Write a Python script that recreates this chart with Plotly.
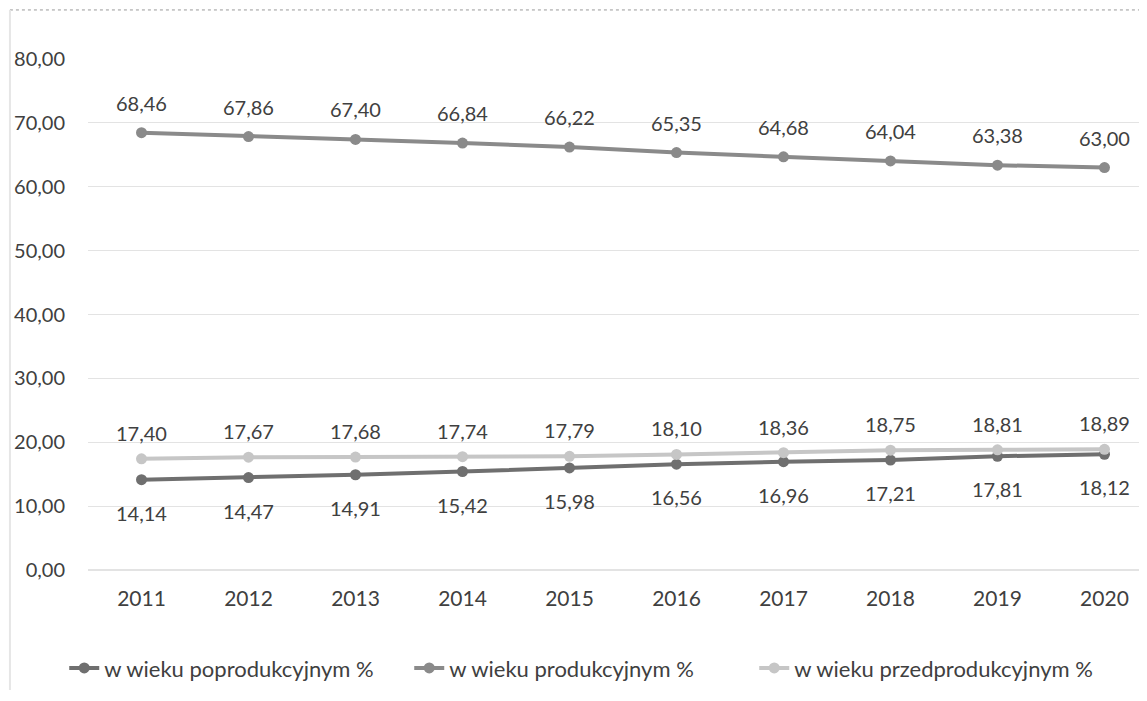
import plotly.graph_objects as go

years = ["2011", "2012", "2013", "2014", "2015", "2016", "2017", "2018", "2019", "2020"]
poprodukcyjny = [14.14, 14.47, 14.91, 15.42, 15.98, 16.56, 16.96, 17.21, 17.81, 18.12]
produkcyjny = [68.46, 67.86, 67.40, 66.84, 66.22, 65.35, 64.68, 64.04, 63.38, 63.00]
przedprodukcyjny = [17.40, 17.67, 17.68, 17.74, 17.79, 18.10, 18.36, 18.75, 18.81, 18.89]

names = ["w wieku poprodukcyjnym %", "w wieku produkcyjnym %", "w wieku przedprodukcyjnym %"]
series = [poprodukcyjny, produkcyjny, przedprodukcyjny]
colors = ["#6f6f6f", "#8a8a8a", "#c6c6c6"]
label_shift = [-33, 30, 26]

FONT = "Lato"

def fmt(v):
    return f"{v:.2f}".replace(".", ",")

fig = go.Figure()
for name, vals, col in zip(names, series, colors):
    fig.add_trace(go.Scatter(
        x=years, y=vals, name=name, mode="lines+markers",
        line=dict(color=col, width=4),
        marker=dict(color=col, size=11, symbol="circle"),
    ))

for vals, sh in zip(series, label_shift):
    for i, v in enumerate(vals):
        fig.add_annotation(
            x=i, y=v, xref="x", yref="y", text=fmt(v), showarrow=False, yshift=sh,
            font=dict(family=FONT, size=20, color="#404040"),
        )

fig.update_layout(
    width=1147, height=701,
    paper_bgcolor="white", plot_bgcolor="white",
    margin=dict(l=80, r=12, t=51, b=139, autoexpand=False),
    separators=", ",
    font=dict(family=FONT, size=17, color="#404040"),
    showlegend=True,
    legend=dict(orientation="h", x=0.468, xanchor="center", y=-0.192, yanchor="middle",
                entrywidth=300, entrywidthmode="pixels",
                font=dict(family=FONT, size=22, color="#404040")),
    xaxis=dict(type="category", range=[-0.5, 9.36], showgrid=False, showline=False, automargin=False,
               ticks="", tickfont=dict(family=FONT, size=21, color="#404040"), ticklabelstandoff=14),
    yaxis=dict(range=[0, 80], dtick=10, tickformat=".2f", showgrid=True, gridcolor="#e3e3e3",
               gridwidth=1, zeroline=True, zerolinecolor="#e3e3e3", showline=False, automargin=False,
               tickfont=dict(family=FONT, size=20, color="#404040"), ticklabelstandoff=22),
    shapes=[
        dict(type="line", xref="paper", yref="paper", x0=-0.074, x1=1.0, y0=1.096, y1=1.096,
             line=dict(color="#9a9a9a", width=1, dash="dot")),
        dict(type="line", xref="paper", yref="paper", x0=-0.074, x1=-0.074, y0=-0.235, y1=1.096,
             line=dict(color="#e6e6e6", width=2)),
    ],
)

fig.write_html("out.html")
